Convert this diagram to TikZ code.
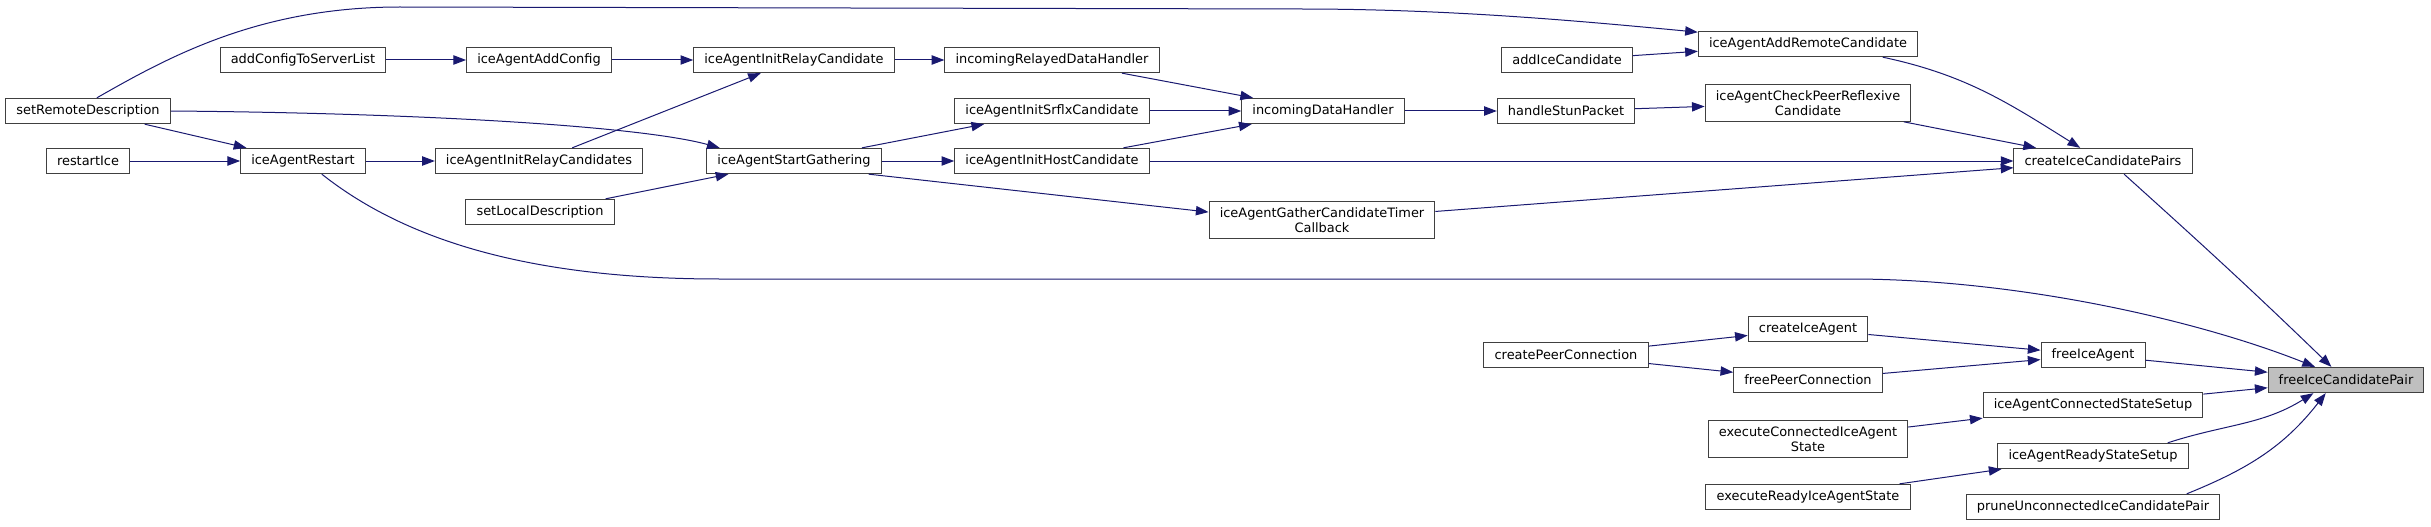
\documentclass[tikz,border=0pt]{standalone}
\usepackage{fontspec}
\setmainfont{DejaVu Sans}
\usetikzlibrary{arrows.meta}
\definecolor{edgeblue}{HTML}{191970}
\definecolor{boxline}{HTML}{404040}
\definecolor{focusfill}{HTML}{BFBFBF}

\begin{document}
\begin{tikzpicture}[x=0.75pt, y=0.75pt,
  font=\fontsize{9.7}{10.8}\selectfont,
  fnbox/.style={draw=boxline, fill=white, line width=0.75pt, inner xsep=8pt, inner ysep=4.6pt, minimum height=19pt, align=center},
  call/.style={-{Triangle[length=9.5pt,width=7pt]}, line width=0.75pt, color=edgeblue}]
\useasboundingbox (0,0) rectangle (2431,526);
% callers, left to right
\node[fnbox] (srd) at (88,415) {setRemoteDescription};
\node[fnbox] (rice) at (88,365) {restartIce};
\node[fnbox] (acl) at (303,466) {addConfigToServerList};
\node[fnbox] (iar) at (303,365) {iceAgentRestart};
\node[fnbox] (aac) at (539,466) {iceAgentAddConfig};
\node[fnbox] (irs) at (539,365) {iceAgentInitRelayCandidates};
\node[fnbox] (sld) at (540,314) {setLocalDescription};
\node[fnbox] (irc) at (794,466) {iceAgentInitRelayCandidate};
\node[fnbox] (isg) at (794,365) {iceAgentStartGathering};
\node[fnbox] (ird) at (1052,466) {incomingRelayedDataHandler};
\node[fnbox] (isc) at (1052,415) {iceAgentInitSrflxCandidate};
\node[fnbox] (ihc) at (1052,365) {iceAgentInitHostCandidate};
\node[fnbox] (idh) at (1323,415) {incomingDataHandler};
\node[fnbox] (gtc) at (1322,306) {iceAgentGatherCandidateTimer\\Callback};
\node[fnbox] (aic) at (1567,466) {addIceCandidate};
\node[fnbox] (hsp) at (1566,415) {handleStunPacket};
\node[fnbox] (cpc) at (1566,171) {createPeerConnection};
\node[fnbox] (arc) at (1808,482) {iceAgentAddRemoteCandidate};
\node[fnbox] (cpr) at (1808,423) {iceAgentCheckPeerReflexive\\Candidate};
\node[fnbox] (cia) at (1808,197) {createIceAgent};
\node[fnbox] (fpc) at (1808,146) {freePeerConnection};
\node[fnbox] (eca) at (1808,87) {executeConnectedIceAgent\\State};
\node[fnbox] (era) at (1808,29) {executeReadyIceAgentState};
\node[fnbox] (ccp) at (2103,365) {createIceCandidatePairs};
\node[fnbox] (fia) at (2093,171) {freeIceAgent};
\node[fnbox] (css) at (2093,121) {iceAgentConnectedStateSetup};
\node[fnbox] (rss) at (2093,70) {iceAgentReadyStateSetup};
\node[fnbox] (puc) at (2093,19) {pruneUnconnectedIceCandidatePair};
% the function itself
\node[fnbox, fill=focusfill] (fcp) at (2346,146) {freeIceCandidatePair};

% calls
\draw[call] (acl) -- (aac);
\draw[call] (aac) -- (irc);
\draw[call] (irs) -- (irc);
\draw[call] (irc) -- (ird);
\draw[call] (ird) -- (idh);
\draw[call] (isc) -- (idh);
\draw[call] (ihc) -- (idh);
\draw[call] (isg) -- (isc);
\draw[call] (isg) -- (ihc);
\draw[call] (isg.-10) -- (gtc.176);
\draw[call] (srd.east) .. controls (420,413) and (640,400) .. ([xshift=10pt]isg.north west);
\draw[call] (sld) -- (isg);
\draw[call] (srd) -- (iar);
\draw[call] (rice) -- (iar);
\draw[call] (iar) -- (irs);
\draw[call] (srd.56) .. controls (170,470) and (260,519) .. (400,519) -- (1300,517)
  .. controls (1450,517) and (1580,505) .. ([yshift=-1pt]arc.north west);
\draw[call] (aic) -- (arc);
\draw[call] (idh) -- (hsp);
\draw[call] (hsp) -- (cpr);
\draw[call] (arc.-10) to[out=-12, in=148] (ccp.150);
\draw[call] (cpr) -- (ccp);
\draw[call] (ihc) -- (ccp);
\draw[call] (gtc) -- (ccp);
\draw[call] (ccp.-32) to[out=-42, in=136] (fcp.138);
\draw[call] (iar.-35) .. controls (400,290) and (520,247) .. (720,247) -- (1850,247)
  .. controls (2020,247) and (2200,205) .. (fcp.157);
\draw[call] (cpc) -- (cia);
\draw[call] (cpc) -- (fpc);
\draw[call] (cia) -- (fia);
\draw[call] (fpc) -- (fia);
\draw[call] (fia) -- (fcp);
\draw[call] (eca) -- (css);
\draw[call] (css) -- (fcp);
\draw[call] (era) -- (rss);
\draw[call] (rss.10) to[out=18, in=-148] (fcp.202);
\draw[call] (puc.8) to[out=22, in=-128] (fcp.213);
\end{tikzpicture}
\end{document}
